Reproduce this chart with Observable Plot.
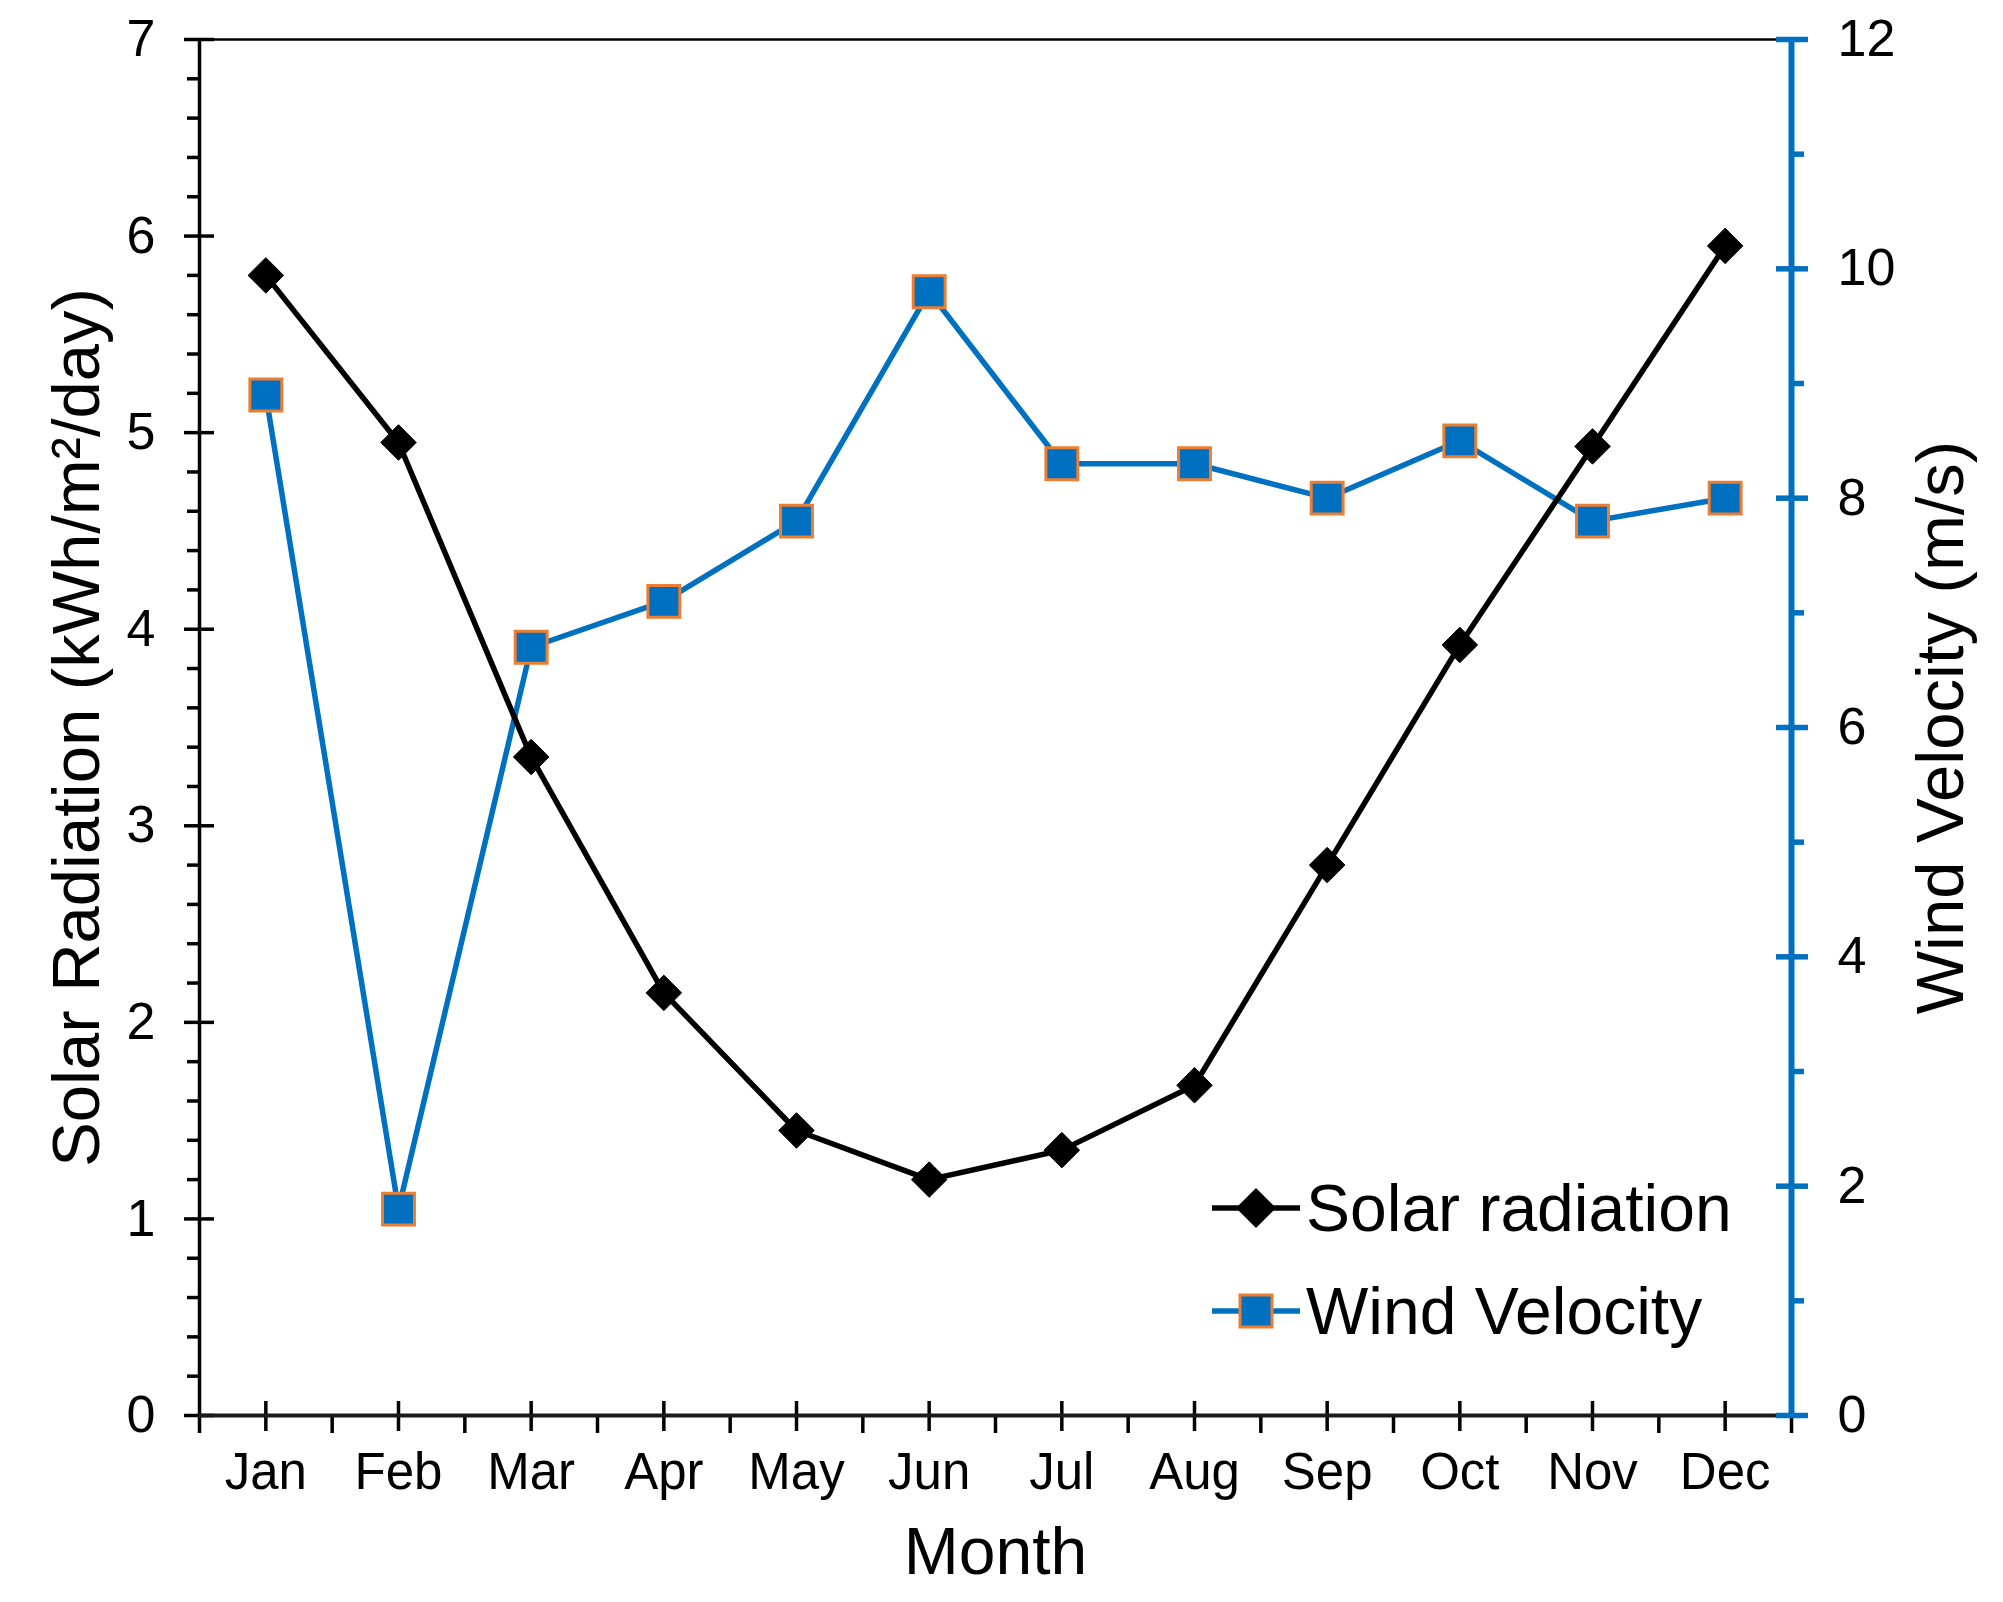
<!DOCTYPE html>
<html>
<head>
<meta charset="utf-8">
<script src="https://cdn.jsdelivr.net/npm/d3@7"></script>
<script src="https://cdn.jsdelivr.net/npm/@observablehq/plot@0.6"></script>
<style>
  body { margin: 0; background: #fff; }
  #wrap { position: relative; width: 2003px; height: 1602px; font-family: "Liberation Sans", Arial, sans-serif; }
  #legend { position: absolute; left: 1212px; top: 1156px; }
  .row { display: flex; align-items: center; height: 103px; font-size: 66px; color: #000; white-space: nowrap; }
  .row svg { margin-right: 6px; }
</style>
</head>
<body>
<div id="wrap"><div id="legend"></div></div>
<script>
// ---- data ----
const months = ["Jan", "Feb", "Mar", "Apr", "May", "Jun", "Jul", "Aug", "Sep", "Oct", "Nov", "Dec"];
const solarRadiation = [5.80, 4.95, 3.35, 2.15, 1.45, 1.20, 1.35, 1.68, 2.80, 3.92, 4.93, 5.95];
const windVelocity = [8.9, 1.8, 6.7, 7.1, 7.8, 9.8, 8.3, 8.3, 8.0, 8.5, 7.8, 8.0];
const leftTicks = [0, 1, 2, 3, 4, 5, 6, 7];
const rightTicks = [0, 2, 4, 6, 8, 10, 12];
const seriesNames = ["Solar radiation", "Wind Velocity"];

const BLUE = "#0070C0";
const ORANGE = "#ED7D31";
const FONT = "Liberation Sans, Arial, sans-serif";

// right axis (0..12) mapped onto left axis (0..7)
const k = 7 / 12;
const idx = months.map((m, i) => i);
const solarData = idx.map(i => ({i, v: solarRadiation[i]}));
const windData = idx.map(i => ({i, v: windVelocity[i] * k}));

const leftMinor = d3.range(0, 36).map(j => j / 5).filter(v => Math.abs(v - Math.round(v)) > 1e-6);
const rightMinor = [1, 3, 5, 7, 9, 11].map(v => v * k);
const bounds = d3.range(13).map(i => i - 0.5);

const chart = Plot.plot({
  width: 2003,
  height: 1602,
  marginLeft: 199,
  marginRight: 212,
  marginTop: 39,
  marginBottom: 187,
  style: {fontFamily: FONT, background: "white", color: "black", overflow: "visible"},
  x: {type: "linear", domain: [-0.5, 11.5], axis: null, label: null},
  y: {domain: [0, 7], axis: null, label: null},
  marks: [
    // frame lines
    Plot.ruleY([7], {stroke: "black", strokeWidth: 2.5}),
    Plot.ruleX([-0.5], {stroke: "black", strokeWidth: 3.5}),

    // left axis ticks
    Plot.axisY(leftMinor, {anchor: "left", tickSize: 12, strokeWidth: 3.5, tickFormat: () => "", label: null}),
    Plot.axisY(leftTicks, {anchor: "left", tickSize: 30, dx: 15, strokeWidth: 3.5, tickFormat: () => "", label: null}),
    Plot.axisY(leftTicks, {anchor: "left", tickSize: 0, tickPadding: 44, fontSize: 52, tickFormat: d => String(d), label: null}),

    // bottom axis ticks
    Plot.axisX(bounds, {anchor: "bottom", tickSize: 18, strokeWidth: 3.5, tickFormat: () => "", label: null}),
    Plot.axisX(idx, {anchor: "bottom", tickSize: 30, dy: -14, strokeWidth: 3.5, tickFormat: () => "", label: null}),
    Plot.axisX(idx, {anchor: "bottom", tickSize: 0, tickPadding: 37, fontSize: 51, tickFormat: i => months[i], label: null}),
    Plot.ruleY([0], {stroke: "#1a1a1a", strokeWidth: 4}),

    // right axis (wind)
    Plot.ruleX([11.5], {stroke: BLUE, strokeWidth: 6}),
    Plot.axisY(rightMinor, {anchor: "right", tickSize: 12, stroke: BLUE, strokeWidth: 5.5, tickFormat: () => "", label: null}),
    Plot.axisY(rightTicks.map(v => v * k), {anchor: "right", tickSize: 32, dx: -16, stroke: BLUE, strokeWidth: 5.5, tickFormat: () => "", label: null}),
    Plot.axisY(rightTicks.map(v => v * k), {anchor: "right", tickSize: 0, tickPadding: 46, fontSize: 52, fill: "black", tickFormat: d => String(Math.round(d / k)), label: null}),

    // axis titles
    Plot.text(["Month"], {frameAnchor: "bottom", dy: 158, fontSize: 66, fill: "black", textAnchor: "middle"}),
    Plot.text(["Solar Radiation (kWh/m²/day)"], {frameAnchor: "left", textAnchor: "middle", rotate: -90, dx: -122, fontSize: 67, fill: "black"}),
    Plot.text(["Wind Velocity (m/s)"], {frameAnchor: "right", textAnchor: "middle", rotate: -90, dx: 150, fontSize: 67, fill: "black"}),

    // series
    Plot.line(windData, {x: "i", y: "v", stroke: BLUE, strokeWidth: 5.5}),
    Plot.line(solarData, {x: "i", y: "v", stroke: "black", strokeWidth: 5.5}),
    Plot.dot(windData, {x: "i", y: "v", symbol: "square", r: 18, fill: BLUE, stroke: ORANGE, strokeWidth: 3}),
    Plot.dot(solarData, {x: "i", y: "v", symbol: "diamond2", r: 16, fill: "black", stroke: "black", strokeWidth: 1})
  ]
});

const wrap = document.getElementById("wrap");
wrap.insertBefore(chart, wrap.firstChild);

// legend
const legend = document.getElementById("legend");
const swatches = [
  `<svg width="88" height="44" viewBox="0 0 88 44"><line x1="0" y1="22" x2="88" y2="22" stroke="black" stroke-width="5.5"/><path d="M44 2 L64 22 L44 42 L24 22 Z" fill="black"/></svg>`,
  `<svg width="88" height="44" viewBox="0 0 88 44"><line x1="0" y1="22" x2="88" y2="22" stroke="${BLUE}" stroke-width="5.5"/><rect x="28" y="6" width="32" height="32" fill="${BLUE}" stroke="${ORANGE}" stroke-width="3"/></svg>`
];
seriesNames.forEach((name, j) => {
  const row = document.createElement("div");
  row.className = "row";
  row.innerHTML = swatches[j] + `<span>${name}</span>`;
  legend.appendChild(row);
});
</script>
</body>
</html>
